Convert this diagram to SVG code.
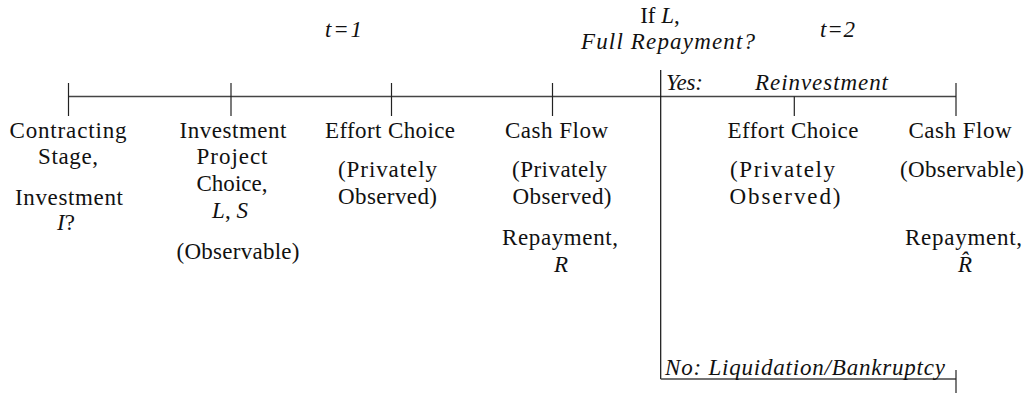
<svg xmlns="http://www.w3.org/2000/svg" width="1029" height="396" viewBox="0 0 1029 396">
<style>
text{font-family:"Liberation Serif","Times New Roman",serif;font-size:23px;fill:#111;}
.c{text-anchor:middle;}
.i{font-style:italic;}
.axis{stroke:#444;stroke-width:1.4;fill:none;}
.tick{stroke:#222;stroke-width:1.2;fill:none;}
.branch{stroke:#111;stroke-width:1.2;fill:none;}
</style>
<rect width="1029" height="396" fill="#fff"/>
<g id="connectors">
<line class="axis" x1="68" y1="96.5" x2="956" y2="96.5"/>
<line class="branch" x1="660.7" y1="70" x2="660.7" y2="379"/>
<line class="axis" x1="660.7" y1="379" x2="956" y2="379"/>
<line class="tick" x1="68.5" y1="83" x2="68.5" y2="116"/>
<line class="tick" x1="231" y1="83" x2="231" y2="116"/>
<line class="tick" x1="391.5" y1="83" x2="391.5" y2="116"/>
<line class="tick" x1="552.5" y1="83" x2="552.5" y2="116"/>
<line class="tick" x1="794.3" y1="96.5" x2="794.3" y2="116"/>
<line class="tick" x1="956" y1="83" x2="956" y2="116"/>
<line class="tick" x1="956" y1="370" x2="956" y2="393"/>
</g>
<g id="period-labels">
<text class="i" x="325" y="37" textLength="37">t=1</text>
<text class="i" x="820" y="37" textLength="35">t=2</text>
<text class="c" x="660" y="23">If <tspan class="i">L</tspan>,</text>
<text class="c i" x="668" y="49" textLength="174">Full Repayment?</text>
<text class="i" x="666" y="90" textLength="37">Yes:</text>
<text class="i" x="755" y="90" textLength="133">Reinvestment</text>
<text class="i" x="665" y="375" textLength="280">No: Liquidation/Bankruptcy</text>
</g>
<g id="node-contracting">
<text class="c" x="68" y="138" textLength="117">Contracting</text>
<text class="c" x="68" y="164" textLength="60">Stage,</text>
<text class="c" x="69" y="205" textLength="108">Investment</text>
<text class="c" x="66" y="230"><tspan class="i">I</tspan>?</text>
</g>
<g id="node-project-choice">
<text class="c" x="233" y="138" textLength="107">Investment</text>
<text class="c" x="232" y="164" textLength="71">Project</text>
<text class="c" x="232" y="191" textLength="71">Choice,</text>
<text class="c" x="230" y="218"><tspan class="i">L</tspan>, <tspan class="i">S</tspan></text>
<text class="c" x="238" y="259" textLength="123">(Observable)</text>
</g>
<g id="node-effort-1">
<text class="c" x="390" y="138" textLength="130">Effort Choice</text>
<text class="c" x="387.5" y="177" textLength="99">(Privately</text>
<text class="c" x="387.5" y="204" textLength="99">Observed)</text>
</g>
<g id="node-cashflow-1">
<text class="c" x="556.5" y="138" textLength="103">Cash Flow</text>
<text class="c" x="559.5" y="177" textLength="95">(Privately</text>
<text class="c" x="562" y="204" textLength="99">Observed)</text>
<text class="c" x="560" y="245" textLength="116">Repayment,</text>
<text class="c i" x="561" y="272">R</text>
</g>
<g id="node-effort-2">
<text class="c" x="793" y="138" textLength="131">Effort Choice</text>
<text class="c" x="782.5" y="177" textLength="105">(Privately</text>
<text class="c" x="785" y="204" textLength="111">Observed)</text>
</g>
<g id="node-cashflow-2">
<text class="c" x="960" y="138" textLength="103">Cash Flow</text>
<text class="c" x="962" y="177" textLength="124">(Observable)</text>
<text class="c" x="963.5" y="245" textLength="117">Repayment,</text>
<text class="c i" x="965" y="272">R̂</text>
</g>
</svg>
